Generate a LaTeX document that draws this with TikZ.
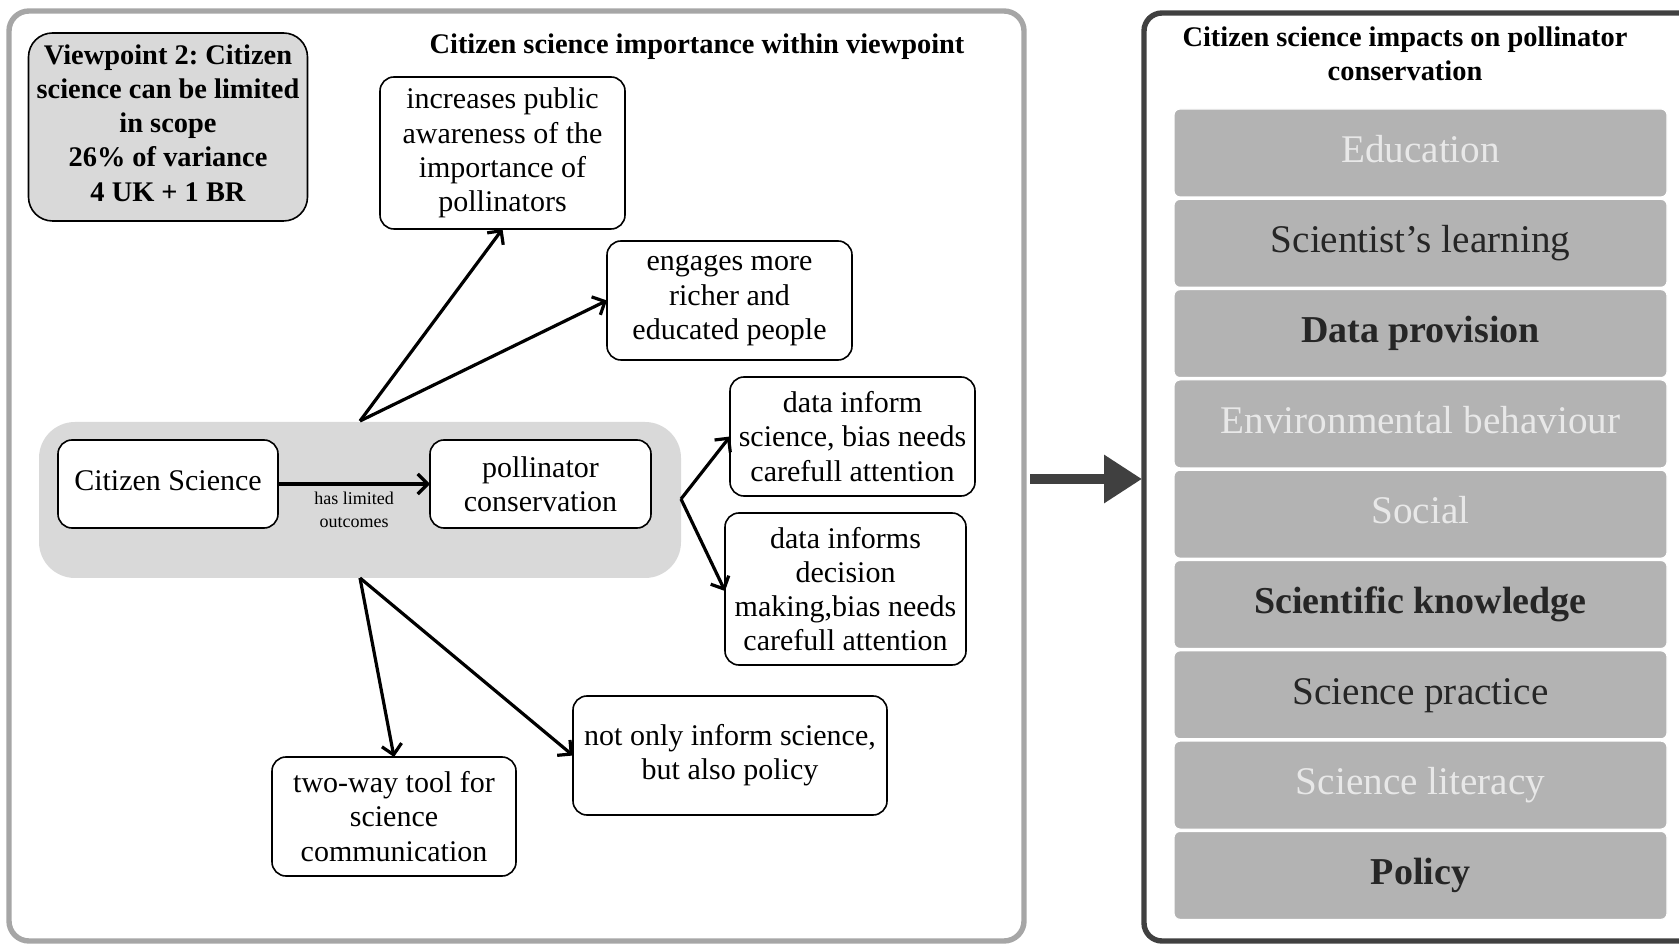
\documentclass[tikz,border=0pt]{standalone}
\usepackage{fontspec}
\setmainfont{Liberation Serif}
\usetikzlibrary{arrows.meta}
\frenchspacing
\definecolor{framegray}{HTML}{A6A6A6}
\definecolor{darkframe}{HTML}{404040}
\definecolor{panelgray}{HTML}{D9D9D9}
\definecolor{itemgray}{HTML}{B3B3B3}
\definecolor{itemlight}{HTML}{E8E8E8}
\definecolor{itemdark}{HTML}{262626}
\begin{document}
\begin{tikzpicture}[x=0.5pt,y=-0.5pt,
  every node/.style={inner sep=0pt, outer sep=0pt},
  bodytext/.style={font=\fontsize{15}{17.1}\selectfont, align=center},
  headtext/.style={font=\bfseries\fontsize{14.2}{17.1}\selectfont, align=center},
  cbox/.style={bodytext, draw=black, line width=0.8pt, rounded corners=7pt, fill=white},
  link/.style={draw=black, line width=1.6pt, -{Straight Barb[length=5pt,width=10pt]}},
  impact/.style={fill=itemgray, draw=white, line width=0.6pt, rounded corners=3pt,
    minimum width=246.5pt, minimum height=44pt, text height=13.6pt, text depth=4.4pt,
    font=\fontsize{19.6}{22}\selectfont},
  lightitem/.style={impact, text=itemlight},
  darkitem/.style={impact, text=itemdark},
  bolditem/.style={impact, text=itemdark, font=\bfseries\fontsize{19}{22}\selectfont}
]
\useasboundingbox (0,0) rectangle (1679,945);
\clip (0,0) rectangle (1679,945);

% outer frames
\draw[framegray, line width=2.7pt, rounded corners=10pt] (9,11) rectangle (1024,941);
\draw[darkframe, line width=2.7pt, rounded corners=9pt] (1144,13) rectangle (1720,941);

% connecting block arrow between the panels
\coordinate (bigA) at (1030,479);
\coordinate (bigB) at (1142,479);
\draw[darkframe, line width=5pt, -{Triangle[length=19pt,width=23pt]}] (bigA) -- (bigB);

% left panel
\node[headtext, draw=black, line width=0.8pt, fill=panelgray, rounded corners=12pt,
  minimum width=139.5pt, minimum height=94pt] (vp) at (168,127)
  {Viewpoint 2: Citizen\\science can be limited\\in scope\\26\% of variance\\4 UK + 1 BR\\[-13pt]\mbox{}};
\node[headtext] (title) at (697,47) {Citizen science importance within viewpoint};

\node[fill=panelgray, rounded corners=18pt, minimum width=321pt, minimum height=78pt] (bg) at (360,500) {};

\node[cbox, minimum width=110pt, minimum height=44pt, text height=10.4pt, text depth=3.4pt] (cs) at (168,484) {Citizen Science};
\node[cbox, minimum width=110.5pt, minimum height=44pt] (pc) at (540.5,484) {pollinator\\conservation};
\draw[link] (cs) -- (pc)
  node[midway, below=4pt, font=\fontsize{9}{11.7}\selectfont, align=center] (lbl) {has limited\\outcomes};

\node[cbox, minimum width=122.5pt, minimum height=76pt] (aware) at (502.5,153)
  {increases public\\awareness of the\\importance of\\pollinators};
\node[cbox, minimum width=122.5pt, minimum height=59.5pt] (engage) at (729.5,300.5)
  {engages more\\richer and\\educated people};
\node[cbox, minimum width=122.5pt, minimum height=59.5pt] (dsci) at (852.5,436.5)
  {data inform\\science, bias needs\\carefull attention};
\node[cbox, minimum width=120.5pt, minimum height=76pt] (ddec) at (845.5,589)
  {data informs\\decision\\making,bias needs\\carefull attention};
\node[cbox, minimum width=157pt, minimum height=59.5pt] (policy) at (730,755.5)
  {not only inform science,\\but also policy};
\node[cbox, minimum width=122pt, minimum height=59.5pt] (twoway) at (394,816.5)
  {two-way tool for\\science\\communication};

\coordinate (jt) at (360,421);
\coordinate (jr) at (681,499);
\coordinate (jb) at (360,578);

\draw[link] (jt) -- (aware.south);
\draw[link] (jt) -- (engage.west);
\draw[link] (jr) -- (dsci.west);
\draw[link] (jr) -- ([yshift=-1pt]ddec.west);
\draw[link] (jb) -- (twoway.north);
\draw[link] (jb) -- (policy.west);

% right panel
\node[headtext] (rtitle) at (1405,54) {Citizen science impacts on pollinator\\conservation};
\node[lightitem] (i1) at (1420.5,153) {Education};
\node[darkitem]  (i2) at (1420.5,243.3) {Scientist’s learning};
\node[bolditem]  (i3) at (1420.5,333.6) {Data provision};
\node[lightitem] (i4) at (1420.5,423.9) {Environmental behaviour};
\node[lightitem] (i5) at (1420.5,514.2) {Social};
\node[bolditem]  (i6) at (1420.5,604.5) {Scientific knowledge};
\node[darkitem]  (i7) at (1420.5,694.8) {Science practice};
\node[lightitem] (i8) at (1420.5,785.1) {Science literacy};
\node[bolditem]  (i9) at (1420.5,875.4) {Policy};
\end{tikzpicture}
\end{document}
